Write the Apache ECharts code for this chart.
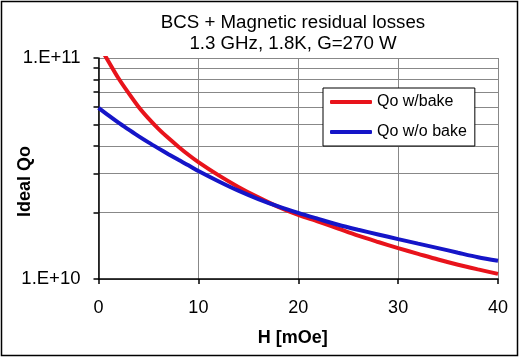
<!DOCTYPE html>
<html>
<head>
<meta charset="utf-8">
<script src="https://cdn.jsdelivr.net/npm/echarts@6/dist/echarts.min.js"></script>
<style>
html,body{margin:0;padding:0;background:#fff;}
#chart{width:526px;height:358px;}
</style>
</head>
<body>
<div id="chart"></div>
<script>
var titleLines = ['BCS + Magnetic residual losses', '1.3 GHz, 1.8K, G=270 W'];
var xName = 'H [mOe]';
var yName = 'Ideal Qo';
var seriesNames = ['Qo w/bake', 'Qo w/o bake'];
var H = [0, 1, 2, 3, 4, 5, 6, 7, 8, 9, 10, 12, 14, 16, 18, 20, 22, 24, 26, 28, 30, 32, 34, 36, 38, 40];
var qoBake = [1.15e11, 9.65e10, 8.1e10, 6.95e10, 6.02e10, 5.33e10, 4.78e10, 4.34e10, 3.97e10, 3.65e10, 3.38e10, 2.95e10, 2.61e10, 2.34e10, 2.12e10, 1.95e10, 1.82e10, 1.69e10, 1.57e10, 1.47e10, 1.38e10, 1.30e10, 1.225e10, 1.16e10, 1.105e10, 1.055e10];
var qoNoBake = [5.95e10, 5.5e10, 5.1e10, 4.75e10, 4.43e10, 4.15e10, 3.9e10, 3.67e10, 3.46e10, 3.27e10, 3.08e10, 2.77e10, 2.51e10, 2.3e10, 2.13e10, 1.99e10, 1.87e10, 1.76e10, 1.67e10, 1.59e10, 1.515e10, 1.445e10, 1.38e10, 1.315e10, 1.255e10, 1.21e10];
var yTicks = [1e10, 2e10, 3e10, 4e10, 5e10, 6e10, 7e10, 8e10, 9e10, 1e11];
var yLabels = [1e10, 1e11];

function pairs(xs, ys) { return xs.map(function (x, i) { return [x, ys[i]]; }); }

var chart = echarts.init(document.getElementById('chart'));
var font = '"Liberation Sans", Arial, sans-serif';
chart.setOption({
  animation: false,
  backgroundColor: '#fff',
  textStyle: { fontFamily: font },
  graphic: [
    { type: 'rect', shape: { x: 1.5, y: 1.5, width: 516, height: 354 }, style: { fill: 'none', stroke: '#000', lineWidth: 1.5 }, z: 100 },
    { type: 'text', x: 293, y: 12, style: { text: titleLines.join('\n'), font: '18.7px ' + font, fill: '#000', textAlign: 'center', textVerticalAlign: 'top', lineHeight: 21 } }
  ],
  grid: { left: 98.5, right: 28, top: 58, bottom: 79, containLabel: false, outerBoundsMode: 'none' },
  legend: {
    orient: 'vertical', left: 323, top: 88,
    padding: [6, 8, 6, 7],
    itemGap: 14, itemWidth: 42, itemHeight: 4,
    borderColor: '#000', borderWidth: 1, backgroundColor: '#fff',
    textStyle: { fontSize: 16, color: '#000', fontFamily: font },
    data: [{ name: seriesNames[0], icon: 'roundRect' }, { name: seriesNames[1], icon: 'roundRect' }]
  },
  xAxis: {
    type: 'value', min: 0, max: 40, interval: 10,
    name: xName, nameLocation: 'middle', nameGap: 50, nameMoveOverlap: false,
    nameTextStyle: { fontSize: 18, fontWeight: 'bold', color: '#000', padding: [0, 11, 0, 0] },
    axisLine: { lineStyle: { color: '#000', width: 1.5 } },
    axisTick: { show: true, inside: false, length: 5, lineStyle: { color: '#000', width: 1.5 } },
    axisLabel: { fontSize: 18, color: '#000', margin: 20 },
    splitLine: { show: true, lineStyle: { color: '#888', width: 1 } }
  },
  yAxis: {
    type: 'log', logBase: 10, min: 1e10, max: 1e11,
    name: yName, nameLocation: 'middle', nameGap: 64, nameRotate: 90, nameMoveOverlap: false,
    nameTextStyle: { fontSize: 18, fontWeight: 'bold', color: '#000', padding: [0, 26, 0, 0] },
    axisLine: { show: true, lineStyle: { color: '#000', width: 1.5 } },
    axisTick: { show: true, inside: false, length: 5, customValues: yTicks, lineStyle: { color: '#000', width: 1.5 } },
    axisLabel: { fontSize: 18.5, color: '#000', margin: 18, customValues: yLabels,
      formatter: function (v) { return '1.E+' + Math.round(Math.log10(v)); } },
    splitLine: { show: true, lineStyle: { color: '#888', width: 1 } }
  },
  series: [
    { name: seriesNames[0], type: 'line', data: pairs(H, qoBake), showSymbol: false, smooth: 0.3, clip: true,
      lineStyle: { color: '#e8131b', width: 4 }, itemStyle: { color: '#e8131b' }, z: 3 },
    { name: seriesNames[1], type: 'line', data: pairs(H, qoNoBake), showSymbol: false, smooth: 0.3, clip: true,
      lineStyle: { color: '#1515c8', width: 4 }, itemStyle: { color: '#1515c8' }, z: 4 }
  ]
});
</script>
</body>
</html>
